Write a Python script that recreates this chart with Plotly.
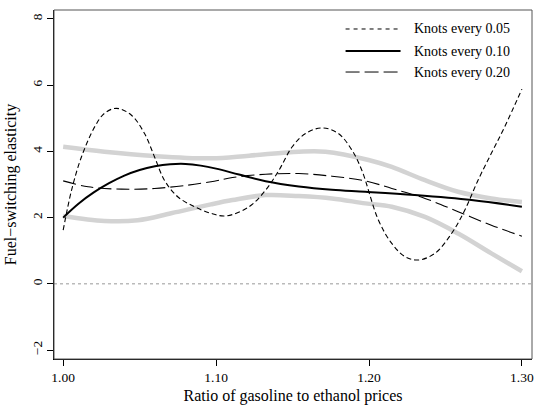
import plotly.graph_objects as go

# ---- data ----
x_k05 = [1.000, 1.0055, 1.012, 1.0206, 1.027, 1.0348, 1.0445, 1.0532, 1.0597, 1.0662, 1.0749,
         1.0858, 1.0966, 1.1064, 1.1216, 1.1324, 1.1411, 1.1498, 1.1585, 1.1693, 1.180, 1.1888,
         1.1953, 1.2062, 1.2149, 1.2236, 1.2323, 1.2431, 1.254, 1.2627, 1.2713, 1.280, 1.2887, 1.300]
y_k05 = [1.62, 2.83, 3.84, 4.74, 5.15, 5.30, 5.10, 4.54, 3.84, 3.13, 2.63,
         2.33, 2.13, 2.05, 2.33, 2.83, 3.43, 4.14, 4.54, 4.71, 4.54, 4.04,
         3.43, 1.92, 1.22, 0.82, 0.72, 0.92, 1.52, 2.23, 3.13, 3.94, 4.74, 5.88]

x_k10 = [1.000, 1.010, 1.020, 1.030, 1.040, 1.050, 1.060, 1.070, 1.080, 1.090, 1.100,
         1.115, 1.1324, 1.1541, 1.1758, 1.1976, 1.230, 1.267, 1.300]
y_k10 = [2.00, 2.42, 2.76, 3.04, 3.27, 3.44, 3.55, 3.61, 3.62, 3.57, 3.48,
         3.30, 3.10, 2.94, 2.84, 2.78, 2.68, 2.53, 2.33]

x_k20 = [1.000, 1.0163, 1.038, 1.0597, 1.0814, 1.0988, 1.1107, 1.1324, 1.1541, 1.1758, 1.1976,
         1.2149, 1.2366, 1.2583, 1.280, 1.300]
y_k20 = [3.11, 2.93, 2.86, 2.88, 2.98, 3.10, 3.21, 3.31, 3.33, 3.25, 3.11,
         2.88, 2.58, 2.18, 1.77, 1.44]

x_up = [1.000, 1.027, 1.0597, 1.0966, 1.1216, 1.1541, 1.1715, 1.1997, 1.2149, 1.2366, 1.2583, 1.280, 1.300]
y_up = [4.14, 3.99, 3.86, 3.79, 3.87, 3.99, 3.99, 3.74, 3.53, 3.13, 2.78, 2.58, 2.47]

x_lo = [1.000, 1.027, 1.0488, 1.0706, 1.0966, 1.1107, 1.1324, 1.1541, 1.1758, 1.1976, 1.2149,
        1.2366, 1.2583, 1.280, 1.300]
y_lo = [2.05, 1.90, 1.92, 2.13, 2.40, 2.53, 2.68, 2.65, 2.58, 2.43, 2.33,
        2.02, 1.52, 0.92, 0.38]

x_ticks = [1.00, 1.10, 1.20, 1.30]
x_ticklabels = ["1.00", "1.10", "1.20", "1.30"]
y_ticks = [-2, 0, 2, 4, 6, 8]
y_ticklabels = ["\u22122", "0", "2", "4", "6", "8"]

legend_labels = ["Knots every 0.05", "Knots every 0.10", "Knots every 0.20"]

FONT = "Liberation Serif, Times New Roman, DejaVu Serif, serif"
GRAY = "#d3d3d3"

fig = go.Figure()
for xs, ys in [(x_up, y_up), (x_lo, y_lo)]:
    fig.add_trace(go.Scatter(x=xs, y=ys, mode="lines", showlegend=False, hoverinfo="skip",
                             line=dict(color=GRAY, width=4.5, shape="spline", smoothing=1)))

styles = [
    dict(color="black", width=1.1, dash="5px,3px"),
    dict(color="black", width=2, dash="solid"),
    dict(color="black", width=1.1, dash="13px,5px"),
]
for (xs, ys), st in zip([(x_k05, y_k05), (x_k10, y_k10), (x_k20, y_k20)], styles):
    fig.add_trace(go.Scatter(x=xs, y=ys, mode="lines", showlegend=False, hoverinfo="skip",
                             line=dict(shape="spline", smoothing=1, **st)))

# zero reference line
fig.add_shape(type="line", xref="paper", yref="y", x0=0, x1=1, y0=0, y1=0,
              line=dict(color="#999999", width=1, dash="dot"))
# plot box
fig.add_shape(type="rect", xref="paper", yref="paper", x0=0, x1=1, y0=0, y1=1,
              line=dict(color="#555555", width=1))

# manual legend
leg_y = [0.9456, 0.8825, 0.8223]
legend_dash = ["4px,4px", "solid", "14px,5px"]
legend_width = [1, 2, 1]
for lab, yy, dsh, w in zip(legend_labels, leg_y, legend_dash, legend_width):
    fig.add_shape(type="line", xref="paper", yref="paper", x0=0.610, x1=0.725, y0=yy, y1=yy,
                  line=dict(color="black", width=w, dash=dsh))
    fig.add_annotation(xref="paper", yref="paper", x=0.748, y=yy, text=lab, showarrow=False,
                       xanchor="left", yanchor="middle",
                       font=dict(family=FONT, size=14, color="black"))

fig.update_layout(
    width=536, height=410,
    margin=dict(l=54, r=2, t=10, b=51),
    plot_bgcolor="white", paper_bgcolor="white",
    showlegend=False,
    font=dict(family=FONT, size=14, color="black"),
)
fig.update_xaxes(range=[0.994, 1.3066], tickvals=x_ticks, ticktext=x_ticklabels,
                 showgrid=False, zeroline=False, showline=True, linecolor="black", linewidth=1,
                 ticks="outside", ticklen=6, tickcolor="black", ticklabeloverflow="allow",
                 tickfont=dict(family=FONT, size=13.5),
                 title=dict(text="Ratio of gasoline to ethanol prices",
                            font=dict(family=FONT, size=16), standoff=5))
fig.update_yaxes(range=[-2.27, 8.27], tickvals=y_ticks, ticktext=y_ticklabels,
                 showgrid=False, zeroline=False, showline=True, linecolor="black", linewidth=1,
                 ticks="outside", ticklen=6, tickcolor="black", tickangle=-90,
                 ticklabeloverflow="allow",
                 tickfont=dict(family=FONT, size=13.5),
                 title=dict(text="Fuel\u2212switching elasticity",
                            font=dict(family=FONT, size=16), standoff=8))

fig.write_html("out.html", config={"displayModeBar": False},
               post_script="document.body.style.margin='0';document.body.style.padding='0';")
